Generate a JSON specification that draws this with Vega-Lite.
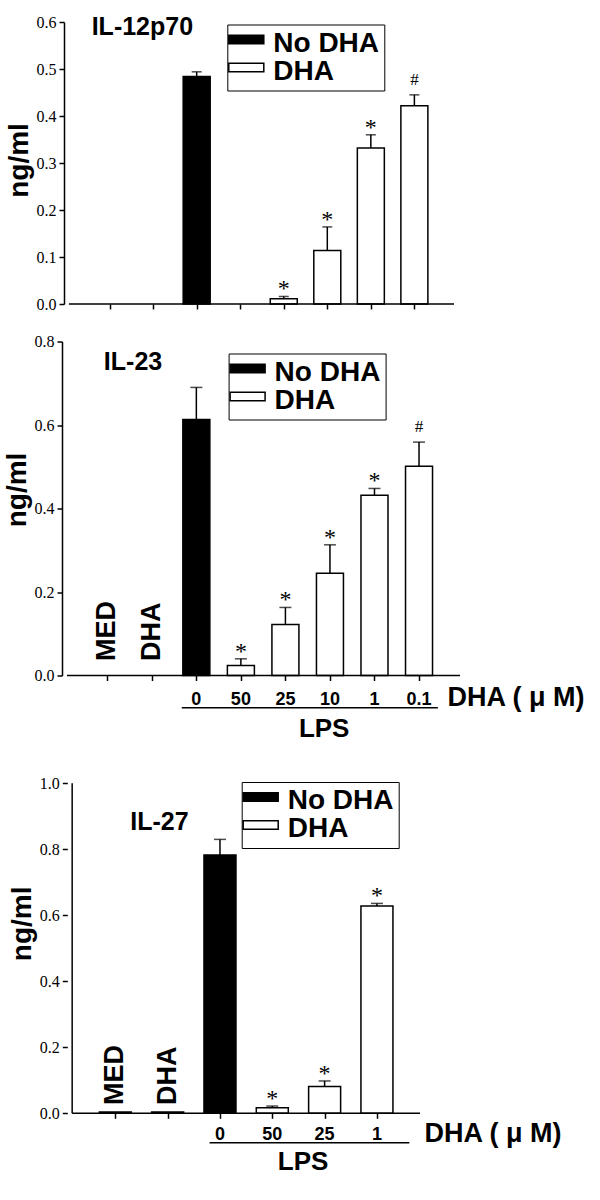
{
  "$schema": "https://vega.github.io/schema/vega-lite/v6.json",
  "background": "white",
  "padding": {"left": 3, "top": 14, "right": 5, "bottom": 5},
  "datasets": {
    "il12": [
      {"idx": 3, "cond": "0", "treatment": "No DHA", "value": 0.484, "err": 0.494, "sig": ""},
      {"idx": 5, "cond": "25", "treatment": "DHA", "value": 0.011, "err": 0.016, "sig": "*"},
      {"idx": 6, "cond": "10", "treatment": "DHA", "value": 0.114, "err": 0.164, "sig": "*"},
      {"idx": 7, "cond": "1", "treatment": "DHA", "value": 0.332, "err": 0.360, "sig": "*"},
      {"idx": 8, "cond": "0.1", "treatment": "DHA", "value": 0.422, "err": 0.445, "sig": "#"}
    ],
    "il23": [
      {"idx": 1, "cond": "MED", "treatment": "DHA", "value": null, "err": null, "sig": ""},
      {"idx": 2, "cond": "DHA", "treatment": "DHA", "value": null, "err": null, "sig": ""},
      {"idx": 3, "cond": "0", "treatment": "No DHA", "value": 0.613, "err": 0.690, "sig": ""},
      {"idx": 4, "cond": "50", "treatment": "DHA", "value": 0.024, "err": 0.040, "sig": "*"},
      {"idx": 5, "cond": "25", "treatment": "DHA", "value": 0.122, "err": 0.163, "sig": "*"},
      {"idx": 6, "cond": "10", "treatment": "DHA", "value": 0.245, "err": 0.313, "sig": "*"},
      {"idx": 7, "cond": "1", "treatment": "DHA", "value": 0.432, "err": 0.448, "sig": "*"},
      {"idx": 8, "cond": "0.1", "treatment": "DHA", "value": 0.501, "err": 0.559, "sig": "#"}
    ],
    "il27": [
      {"idx": 1, "cond": "MED", "treatment": "DHA", "value": 0.004, "err": null, "sig": ""},
      {"idx": 2, "cond": "DHA", "treatment": "DHA", "value": 0.004, "err": null, "sig": ""},
      {"idx": 3, "cond": "0", "treatment": "No DHA", "value": 0.783, "err": 0.830, "sig": ""},
      {"idx": 4, "cond": "50", "treatment": "DHA", "value": 0.017, "err": 0.022, "sig": "*"},
      {"idx": 5, "cond": "25", "treatment": "DHA", "value": 0.081, "err": 0.098, "sig": "*"},
      {"idx": 6, "cond": "1", "treatment": "DHA", "value": 0.628, "err": 0.636, "sig": "*"}
    ]
  },
  "spacing": 37.5,
  "bounds": "flush",
  "resolve": {"scale": {"fill": "independent", "x": "independent", "y": "independent"}, "legend": {"fill": "independent"}},
  "vconcat": [
    {
      "width": 397,
      "height": 282,
      "data": {"name": "il12"},
      "layer": [
        {
          "mark": {"type": "bar", "width": 27, "stroke": "black", "strokeWidth": 1.5},
          "encoding": {
            "x": {"field": "idx", "type": "quantitative", "scale": {"domain": [0.0215, 8.91], "nice": false, "zero": false},
                  "axis": {"values": [1, 2, 3, 4, 5, 6, 7, 8], "labels": false, "domain": false, "title": null}},
            "y": {"field": "value", "type": "quantitative", "scale": {"domain": [0, 0.6], "nice": false},
                  "axis": {"values": [0, 0.1, 0.2, 0.3, 0.4, 0.5, 0.6], "format": ".1f", "offset": -2, "title": "ng/ml", "titleY": 138}},
            "fill": {"field": "treatment", "type": "nominal", "scale": {"domain": ["No DHA", "DHA"], "range": ["black", "white"]},
                     "legend": {"title": null, "orient": "none", "legendX": 165.3, "legendY": 2.5}}
          }
        },
        {
          "mark": {"type": "rule", "color": "black", "strokeWidth": 1.5},
          "encoding": {"x": {"field": "idx", "type": "quantitative"}, "y": {"field": "value", "type": "quantitative"}, "y2": {"field": "err"}}
        },
        {
          "mark": {"type": "tick", "orient": "horizontal", "size": 10, "thickness": 1.5, "color": "black"},
          "encoding": {"x": {"field": "idx", "type": "quantitative"}, "y": {"field": "err", "type": "quantitative"}}
        },
        {
          "transform": [{"filter": "datum.sig === '*'"}],
          "mark": {"type": "text", "font": "Liberation Serif", "fontSize": 24, "baseline": "alphabetic", "align": "center"},
          "encoding": {"x": {"field": "idx", "type": "quantitative"}, "y": {"field": "err", "type": "quantitative"}, "text": {"field": "sig"}}
        },
        {
          "transform": [{"filter": "datum.sig === '#'"}],
          "mark": {"type": "text", "font": "Liberation Serif", "fontSize": 17, "baseline": "alphabetic", "align": "center", "dy": -10},
          "encoding": {"x": {"field": "idx", "type": "quantitative"}, "y": {"field": "err", "type": "quantitative"}, "text": {"field": "sig"}}
        },
        {
          "data": {"values": [{}]},
          "mark": {"type": "rule", "color": "black", "strokeWidth": 1.5},
          "encoding": {"x": {"datum": 0.066}, "x2": {"datum": 8.91}, "y": {"datum": 0}}
        },
        {
          "data": {"values": [{}]},
          "mark": {"type": "text", "text": "IL-12p70", "align": "left", "baseline": "alphabetic", "fontSize": 25, "fontWeight": "bold", "font": "Liberation Sans"},
          "encoding": {"x": {"datum": 0.588}, "y": {"datum": 0.5723}}
        }
      ]
    },
    {
      "width": 403,
      "height": 334,
      "data": {"name": "il23"},
      "layer": [
        {
          "mark": {"type": "bar", "width": 27, "stroke": "black", "strokeWidth": 1.5},
          "encoding": {
            "x": {"field": "idx", "type": "quantitative", "scale": {"domain": [0.0957, 8.92], "nice": false, "zero": false},
                  "axis": {"values": [1, 2, 3, 4, 5, 6, 7, 8], "labels": false, "domain": false, "title": "DHA ( μ M)", "titleX": 385, "titleY": 22}},
            "y": {"field": "value", "type": "quantitative", "scale": {"domain": [0, 0.8], "nice": false},
                  "axis": {"values": [0, 0.2, 0.4, 0.6, 0.8], "format": ".1f", "title": "ng/ml", "titleY": 148}},
            "fill": {"field": "treatment", "type": "nominal", "scale": {"domain": ["No DHA", "DHA"], "range": ["black", "white"]},
                     "legend": {"title": null, "orient": "none", "legendX": 166.6, "legendY": 12}}
          }
        },
        {
          "mark": {"type": "rule", "color": "black", "strokeWidth": 1.5},
          "encoding": {"x": {"field": "idx", "type": "quantitative"}, "y": {"field": "value", "type": "quantitative"}, "y2": {"field": "err"}}
        },
        {
          "mark": {"type": "tick", "orient": "horizontal", "size": 12, "thickness": 1.5, "color": "black"},
          "encoding": {"x": {"field": "idx", "type": "quantitative"}, "y": {"field": "err", "type": "quantitative"}}
        },
        {
          "transform": [{"filter": "datum.sig === '*'"}],
          "mark": {"type": "text", "font": "Liberation Serif", "fontSize": 24, "baseline": "alphabetic", "align": "center"},
          "encoding": {"x": {"field": "idx", "type": "quantitative"}, "y": {"field": "err", "type": "quantitative"}, "text": {"field": "sig"}}
        },
        {
          "transform": [{"filter": "datum.sig === '#'"}],
          "mark": {"type": "text", "font": "Liberation Serif", "fontSize": 17, "baseline": "alphabetic", "align": "center", "dy": -10},
          "encoding": {"x": {"field": "idx", "type": "quantitative"}, "y": {"field": "err", "type": "quantitative"}, "text": {"field": "sig"}}
        },
        {
          "transform": [{"filter": "datum.idx >= 3"}],
          "mark": {"type": "text", "font": "Liberation Sans", "fontWeight": "bold", "fontSize": 18, "baseline": "middle", "align": "center", "dy": 24.5},
          "encoding": {"x": {"field": "idx", "type": "quantitative"}, "y": {"datum": 0}, "text": {"field": "cond"}}
        },
        {
          "transform": [{"filter": "datum.idx <= 2"}],
          "mark": {"type": "text", "font": "Liberation Sans", "fontWeight": "bold", "fontSize": 27, "angle": 270, "baseline": "middle", "align": "left"},
          "encoding": {"x": {"field": "idx", "type": "quantitative"}, "y": {"datum": 0.0347}, "text": {"field": "cond"}}
        },
        {
          "data": {"values": [{}]},
          "mark": {"type": "rule", "color": "black", "strokeWidth": 1.5},
          "encoding": {"x": {"datum": 0.0957}, "x2": {"datum": 8.92}, "y": {"datum": 0}}
        },
        {
          "data": {"values": [{}]},
          "mark": {"type": "rule", "color": "black", "strokeWidth": 1.5},
          "encoding": {"x": {"datum": 2.673}, "x2": {"datum": 8.423}, "y": {"datum": -0.0771}}
        },
        {
          "data": {"values": [{}]},
          "mark": {"type": "text", "text": "LPS", "align": "center", "baseline": "middle", "fontSize": 26, "fontWeight": "bold", "font": "Liberation Sans"},
          "encoding": {"x": {"datum": 5.87}, "y": {"datum": -0.1281}}
        },
        {
          "data": {"values": [{}]},
          "mark": {"type": "text", "text": "IL-23", "align": "left", "baseline": "alphabetic", "fontSize": 25, "fontWeight": "bold", "font": "Liberation Sans"},
          "encoding": {"x": {"datum": 0.923}, "y": {"datum": 0.7317}}
        }
      ]
    },
    {
      "width": 363,
      "height": 400.3,
      "data": {"name": "il27"},
      "layer": [
        {
          "mark": {"type": "bar", "width": 32, "stroke": "black", "strokeWidth": 1.5},
          "encoding": {
            "x": {"field": "idx", "type": "quantitative", "scale": {"domain": [0.0762, 6.823], "nice": false, "zero": false},
                  "axis": {"values": [1, 2, 3, 4, 5, 6], "labels": false, "domain": false, "title": "DHA ( μ M)", "titleX": 362, "titleY": 20}},
            "y": {"field": "value", "type": "quantitative", "scale": {"domain": [0, 1.213], "nice": false},
                  "axis": {"values": [0, 0.2, 0.4, 0.6, 0.8, 1.0], "format": ".1f", "offset": -5.3, "domain": false, "title": "ng/ml", "titleY": 210.3}},
            "fill": {"field": "treatment", "type": "nominal", "scale": {"domain": ["No DHA", "DHA"], "range": ["black", "white"]},
                     "legend": {"title": null, "orient": "none", "legendX": 179.7, "legendY": 69}}
          }
        },
        {
          "mark": {"type": "rule", "color": "black", "strokeWidth": 1.5},
          "encoding": {"x": {"field": "idx", "type": "quantitative"}, "y": {"field": "value", "type": "quantitative"}, "y2": {"field": "err"}}
        },
        {
          "mark": {"type": "tick", "orient": "horizontal", "size": 12, "thickness": 1.5, "color": "black"},
          "encoding": {"x": {"field": "idx", "type": "quantitative"}, "y": {"field": "err", "type": "quantitative"}}
        },
        {
          "transform": [{"filter": "datum.sig === '*'"}],
          "mark": {"type": "text", "font": "Liberation Serif", "fontSize": 24, "baseline": "alphabetic", "align": "center"},
          "encoding": {"x": {"field": "idx", "type": "quantitative"}, "y": {"field": "err", "type": "quantitative"}, "text": {"field": "sig"}}
        },
        {
          "transform": [{"filter": "datum.idx >= 3"}],
          "mark": {"type": "text", "font": "Liberation Sans", "fontWeight": "bold", "fontSize": 18, "baseline": "middle", "align": "center", "dy": 21.7},
          "encoding": {"x": {"field": "idx", "type": "quantitative"}, "y": {"datum": 0}, "text": {"field": "cond"}}
        },
        {
          "transform": [{"filter": "datum.idx <= 2"}],
          "mark": {"type": "text", "font": "Liberation Sans", "fontWeight": "bold", "fontSize": 27, "angle": 270, "baseline": "middle", "align": "left"},
          "encoding": {"x": {"field": "idx", "type": "quantitative"}, "y": {"datum": 0.025}, "text": {"field": "cond"}}
        },
        {
          "data": {"values": [{}]},
          "mark": {"type": "rule", "color": "black", "strokeWidth": 1.5},
          "encoding": {"x": {"datum": 0.175}, "x2": {"datum": 6.823}, "y": {"datum": 0}}
        },
        {
          "data": {"values": [{}]},
          "mark": {"type": "rule", "color": "black", "strokeWidth": 1.5},
          "encoding": {"x": {"datum": 0.175}, "y": {"datum": 0}, "y2": {"datum": 1.0}}
        },
        {
          "data": {"values": [{}]},
          "mark": {"type": "rule", "color": "black", "strokeWidth": 1.5},
          "encoding": {"x": {"datum": 2.801}, "x2": {"datum": 6.619}, "y": {"datum": -0.0891}}
        },
        {
          "data": {"values": [{}]},
          "mark": {"type": "text", "text": "LPS", "align": "center", "baseline": "middle", "fontSize": 26, "fontWeight": "bold", "font": "Liberation Sans"},
          "encoding": {"x": {"datum": 4.589}, "y": {"datum": -0.1467}}
        },
        {
          "data": {"values": [{}]},
          "mark": {"type": "text", "text": "IL-27", "align": "left", "baseline": "alphabetic", "fontSize": 25, "fontWeight": "bold", "font": "Liberation Sans"},
          "encoding": {"x": {"datum": 1.284}, "y": {"datum": 0.8585}}
        }
      ]
    }
  ],
  "config": {
    "view": {"stroke": null},
    "font": "Liberation Sans",
    "axis": {"domainColor": "black", "tickColor": "black", "labelColor": "black", "titleColor": "black", "grid": false, "domainWidth": 1.5, "tickWidth": 1.5, "tickSize": 5},
    "axisY": {"labelFont": "Liberation Serif", "labelFontSize": 16, "labelPadding": 3, "titleFont": "Liberation Sans", "titleFontSize": 28, "titleFontWeight": "bold", "titlePadding": 3},
    "axisX": {"titleFont": "Liberation Sans", "titleFontSize": 27, "titleFontWeight": "bold", "titleAlign": "left", "titleBaseline": "middle"},
    "legend": {"strokeColor": "black", "padding": 5, "symbolType": "M-3.5,-1.64H3.5V0.04H-3.5Z", "symbolSize": 100, "symbolStrokeColor": "black", "symbolStrokeWidth": 1.5, "labelFont": "Liberation Sans", "labelFontWeight": "bold", "labelFontSize": 28, "labelColor": "black", "labelOffset": 13, "rowPadding": 0},
    "text": {"color": "black"}
  }
}
